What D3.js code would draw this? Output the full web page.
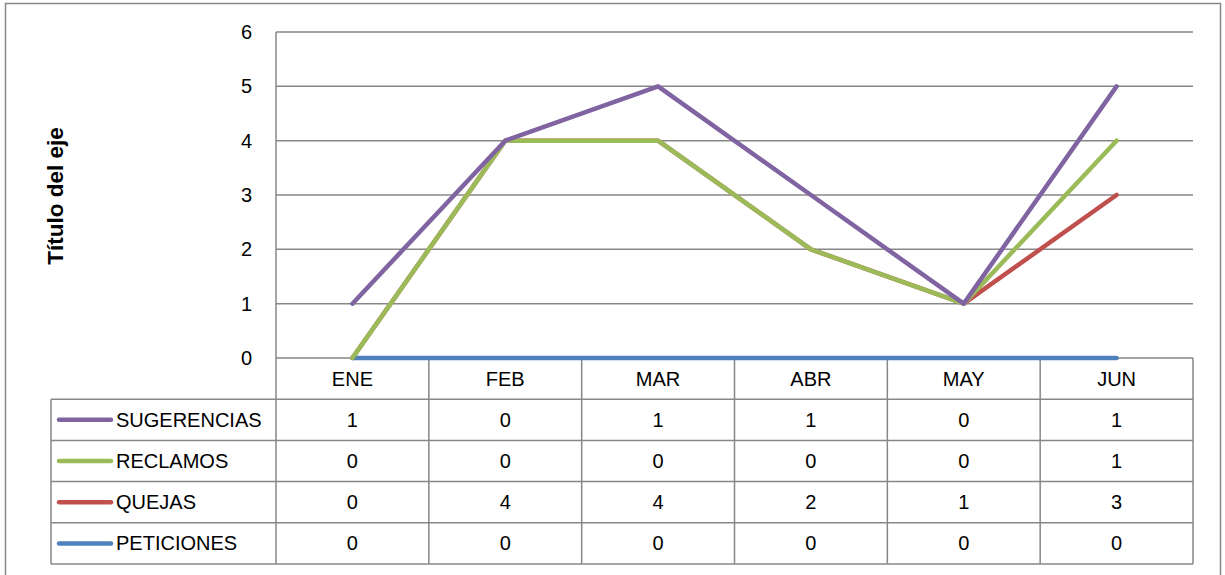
<!DOCTYPE html>
<meta charset="utf-8">
<style>
    body { margin: 0; background: #fff; }
    text { font-family: "Liberation Sans", Arial, sans-serif; fill: #000; }
    .grid line { stroke: #878787; stroke-width: 1.5px; }
    .tbl line { stroke: #878787; stroke-width: 1.5px; }
</style>
<body>
<script src="https://d3js.org/d3.v7.min.js"></script>
<script>
    var width = 1225,
        height = 575;

    // data (stacked line chart, raw values as shown in the table)
    var months = ["ENE", "FEB", "MAR", "ABR", "MAY", "JUN"];
    var peticiones = [0, 0, 0, 0, 0, 0];
    var quejas = [0, 4, 4, 2, 1, 3];
    var reclamos = [0, 0, 0, 0, 0, 1];
    var sugerencias = [1, 0, 1, 1, 0, 1];
    var yTicks = [0, 1, 2, 3, 4, 5, 6];

    // drawing order bottom -> top of stack
    var series = [
        { name: "PETICIONES", values: peticiones, color: "#4f81bd" },
        { name: "QUEJAS", values: quejas, color: "#c0504d" },
        { name: "RECLAMOS", values: reclamos, color: "#9bbb59" },
        { name: "SUGERENCIAS", values: sugerencias, color: "#8064a2" }
    ];
    // table rows listed top -> bottom
    var tableRows = series.slice().reverse();

    var plotLeft = 276, plotRight = 1193, plotTop = 32, plotBottom = 358;
    var rowH = 41.2;

    var svg = d3.select("body").append("svg")
        .attr("width", width)
        .attr("height", height);

    svg.append("rect")
        .attr("x", 5.5).attr("y", 3.5)
        .attr("width", 1215).attr("height", 575)
        .attr("fill", "#fff")
        .attr("stroke", "#878787")
        .attr("stroke-width", 1.5);

    var x = d3.scaleBand().domain(months).range([plotLeft, plotRight]);
    var y = d3.scaleLinear().domain([0, 6]).range([plotBottom, plotTop]);

    // stack values
    var acc = months.map(function () { return 0; });
    series.forEach(function (s) {
        s.stacked = s.values.map(function (v, i) { acc[i] += v; return acc[i]; });
    });

    // gridlines
    svg.append("g").attr("class", "grid")
        .selectAll("line").data(yTicks).enter().append("line")
        .attr("x1", plotLeft).attr("x2", plotRight)
        .attr("y1", function (d) { return y(d); })
        .attr("y2", function (d) { return y(d); });

    // y tick labels
    svg.append("g").selectAll("text").data(yTicks).enter().append("text")
        .attr("x", 252)
        .attr("y", function (d) { return y(d); })
        .attr("dy", "0.35em")
        .attr("text-anchor", "end")
        .style("font-size", "20px")
        .text(function (d) { return d; });

    // axis title
    svg.append("text")
        .attr("transform", "translate(63,196) rotate(-90)")
        .attr("text-anchor", "middle")
        .style("font-size", "22.5px")
        .style("font-weight", "bold")
        .text("Título del eje");

    // table grid
    var tbl = svg.append("g").attr("class", "tbl");
    var tableBottom = plotBottom + rowH * 5;
    tbl.append("line")
        .attr("x1", plotLeft).attr("x2", plotLeft)
        .attr("y1", plotTop).attr("y2", tableBottom);
    months.forEach(function (m) {
        tbl.append("line")
            .attr("x1", x(m) + x.bandwidth()).attr("x2", x(m) + x.bandwidth())
            .attr("y1", plotBottom).attr("y2", tableBottom);
    });
    for (var r = 1; r <= 5; r++) {
        tbl.append("line")
            .attr("x1", 51).attr("x2", plotRight)
            .attr("y1", plotBottom + rowH * r).attr("y2", plotBottom + rowH * r);
    }
    tbl.append("line")
        .attr("x1", 51).attr("x2", 51)
        .attr("y1", plotBottom + rowH).attr("y2", tableBottom);

    // header labels
    svg.append("g").selectAll("text").data(months).enter().append("text")
        .attr("x", function (d) { return x(d) + x.bandwidth() / 2; })
        .attr("y", plotBottom + rowH / 2)
        .attr("dy", "0.35em")
        .attr("text-anchor", "middle")
        .style("font-size", "20px")
        .text(function (d) { return d; });

    // table rows
    tableRows.forEach(function (s, ri) {
        var cy = plotBottom + rowH * (ri + 1.5);
        svg.append("line")
            .attr("x1", 59).attr("x2", 111)
            .attr("y1", cy).attr("y2", cy)
            .attr("stroke", s.color)
            .attr("stroke-width", 4.5)
            .attr("stroke-linecap", "round");
        svg.append("text")
            .attr("x", 116).attr("y", cy)
            .attr("dy", "0.35em")
            .style("font-size", "20px")
            .text(s.name);
        svg.append("g").selectAll("text").data(s.values).enter().append("text")
            .attr("x", function (d, i) { return x(months[i]) + x.bandwidth() / 2; })
            .attr("y", cy)
            .attr("dy", "0.35em")
            .attr("text-anchor", "middle")
            .style("font-size", "20px")
            .text(function (d) { return d; });
    });

    // lines
    var line = d3.line()
        .x(function (d, i) { return x(months[i]) + x.bandwidth() / 2; })
        .y(function (d) { return y(d); });

    svg.append("g").selectAll("path").data(series).enter().append("path")
        .attr("d", function (d) { return line(d.stacked); })
        .attr("fill", "none")
        .attr("stroke", function (d) { return d.color; })
        .attr("stroke-width", 4.5)
        .attr("stroke-linejoin", "round")
        .attr("stroke-linecap", "round");
</script>
</body>
